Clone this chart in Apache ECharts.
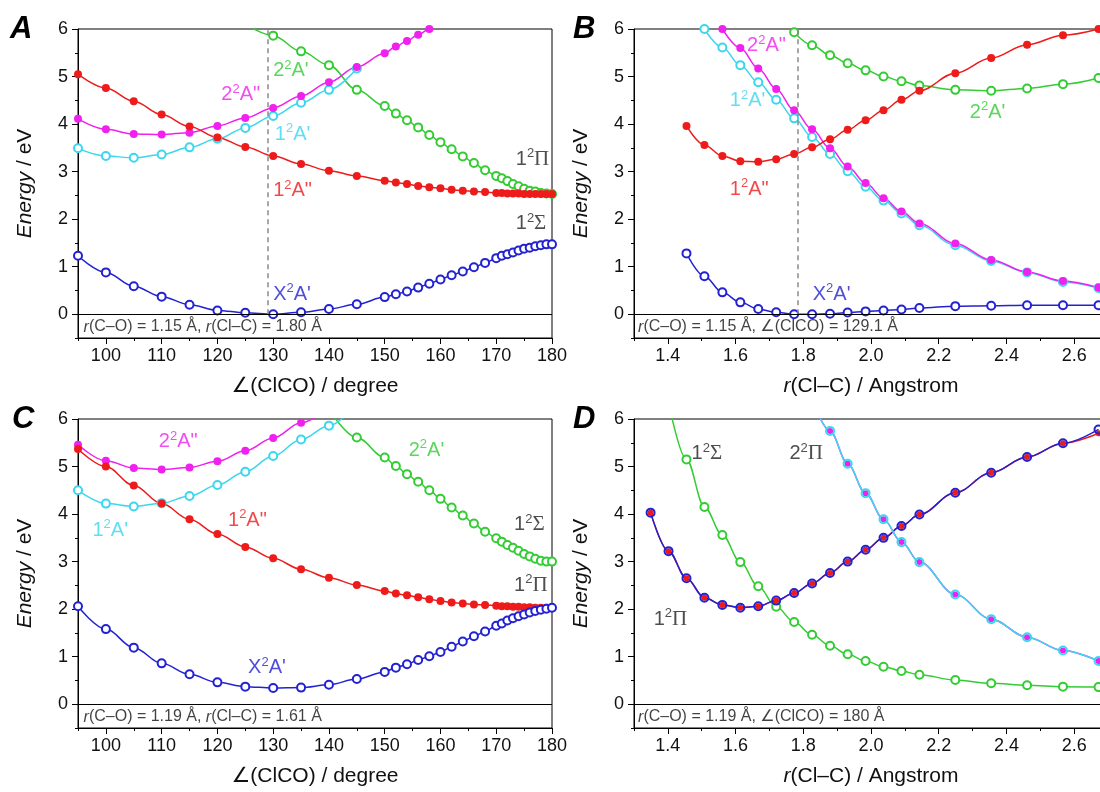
<!DOCTYPE html>
<html>
<head>
<meta charset="utf-8">
<script src="https://cdn.jsdelivr.net/npm/echarts@6/dist/echarts.min.js"></script>
<style>
  html, body { margin: 0; padding: 0; background: #fff; overflow: hidden; }
  #chart { width: 1100px; height: 792px; }
</style>
</head>
<body>
<div id="chart"></div>
<script>
// ---- scan coordinates ----
// bending angle ∠(ClCO) in degrees (panels A and C)
const angleGrid = [95, 100, 105, 110, 115, 120, 125, 130, 135, 140, 145, 150,
  152, 154, 156, 158, 160, 162, 164, 166, 168, 170,
  171, 172, 173, 174, 175, 176, 177, 178, 179, 180];
// Cl–C distance in Angstrom (panels B and D)
const rGrid = [1.349, 1.402, 1.455, 1.508, 1.561, 1.614, 1.667, 1.720, 1.773, 1.826, 1.879,
  1.931, 1.984, 2.037, 2.090, 2.143, 2.249, 2.355, 2.461, 2.567, 2.672];

// ---- A: r(C–O) = 1.15, r(Cl–C) = 1.80 ----
const aX2A1 = [1.23, 0.88, 0.59, 0.37, 0.20, 0.08, 0.03, 0.00, 0.04, 0.11, 0.21, 0.36,
  0.42, 0.48, 0.56, 0.64, 0.73, 0.82, 0.90, 0.99, 1.08, 1.18,
  1.23, 1.26, 1.30, 1.34, 1.38, 1.40, 1.43, 1.45, 1.47, 1.47];
const a1A2 = [5.05, 4.76, 4.48, 4.20, 3.95, 3.72, 3.52, 3.33, 3.16, 3.02, 2.91, 2.81,
  2.77, 2.74, 2.70, 2.67, 2.65, 2.62, 2.60, 2.58, 2.57, 2.55,
  2.55, 2.54, 2.54, 2.54, 2.53, 2.53, 2.53, 2.53, 2.53, 2.53];
const a2A2 = [4.11, 3.89, 3.79, 3.78, 3.82, 3.96, 4.13, 4.34, 4.59, 4.88, 5.20, 5.49,
  5.63, 5.75, 5.88, 6.00, 6.13, null, null, null, null, null,
  null, null, null, null, null, null, null, null, null, null];
const a1A1 = [3.49, 3.33, 3.29, 3.36, 3.51, 3.69, 3.92, 4.17, 4.45, 4.72, 5.17, null,
  null, null, null, null, null, null, null, null, null, null,
  null, null, null, null, null, null, null, null, null, null];
const a2A1 = [null, null, null, null, null, null, 6.10, 5.86, 5.53, 5.24, 4.72, 4.38,
  4.22, 4.08, 3.93, 3.77, 3.62, 3.47, 3.32, 3.18, 3.03, 2.91,
  2.86, 2.80, 2.74, 2.69, 2.64, 2.60, 2.58, 2.55, 2.54, 2.53];

// ---- B: r(C–O) = 1.15, ∠(ClCO) = 129.1 ----
const bX2A1 = [null, null, 1.28, 0.80, 0.46, 0.25, 0.11, 0.04, 0.00, 0.00, 0.01,
  0.035, 0.06, 0.08, 0.10, 0.13, 0.17, 0.18, 0.19, 0.19, 0.19];
const b1A2 = [null, null, 3.96, 3.56, 3.33, 3.22, 3.21, 3.26, 3.37, 3.51, 3.68,
  3.88, 4.08, 4.29, 4.51, 4.70, 5.07, 5.39, 5.67, 5.87, 6.00];
const b2A2 = [null, null, null, null, 6.00, 5.60, 5.17, 4.74, 4.29, 3.89, 3.49,
  3.11, 2.76, 2.44, 2.16, 1.91, 1.49, 1.14, 0.89, 0.70, 0.56];
const b1A1 = [null, null, null, 6.00, 5.61, 5.24, 4.88, 4.51, 4.12, 3.73, 3.37,
  3.01, 2.68, 2.39, 2.12, 1.87, 1.45, 1.12, 0.88, 0.68, 0.55];
const b2A1 = [null, null, null, null, null, null, null, null, 5.93, 5.66, 5.45,
  5.28, 5.13, 5.00, 4.90, 4.81, 4.72, 4.70, 4.75, 4.84, 4.97];

// ---- C: r(C–O) = 1.19, r(Cl–C) = 1.61 ----
const cX2A1 = [2.06, 1.58, 1.19, 0.86, 0.63, 0.46, 0.37, 0.34, 0.35, 0.41, 0.53, 0.68,
  0.77, 0.84, 0.93, 1.01, 1.10, 1.21, 1.32, 1.43, 1.53, 1.65,
  1.70, 1.76, 1.81, 1.85, 1.89, 1.93, 1.96, 1.99, 2.01, 2.03];
const c1A2 = [5.37, 5.00, 4.60, 4.22, 3.89, 3.58, 3.31, 3.07, 2.84, 2.66, 2.51, 2.38,
  2.33, 2.29, 2.25, 2.21, 2.17, 2.14, 2.12, 2.10, 2.09, 2.07,
  2.06, 2.06, 2.05, 2.05, 2.04, 2.04, 2.03, 2.03, 2.03, 2.03];
const c2A2 = [5.46, 5.12, 4.97, 4.94, 4.98, 5.11, 5.33, 5.60, 5.92, 6.25, null, null,
  null, null, null, null, null, null, null, null, null, null,
  null, null, null, null, null, null, null, null, null, null];
const c1A1 = [4.50, 4.22, 4.16, 4.23, 4.38, 4.61, 4.89, 5.22, 5.57, 5.86, 6.33, null,
  null, null, null, null, null, null, null, null, null, null,
  null, null, null, null, null, null, null, null, null, null];
const c2A1 = [null, null, null, null, null, null, null, null, null, 6.20, 5.61, 5.19,
  5.01, 4.84, 4.68, 4.50, 4.32, 4.14, 3.97, 3.80, 3.63, 3.49,
  3.42, 3.35, 3.29, 3.23, 3.16, 3.11, 3.06, 3.02, 3.00, 3.00];

// ---- D: r(C–O) = 1.19, ∠(ClCO) = 180 (linear) ----
const dX2A1 = [4.03, 3.22, 2.65, 2.24, 2.09, 2.03, 2.06, 2.18, 2.34, 2.54, 2.76,
  3.00, 3.25, 3.50, 3.75, 3.99, 4.45, 4.87, 5.20, 5.49, 5.78];
const d1A2 = [4.03, 3.22, 2.65, 2.24, 2.09, 2.03, 2.06, 2.18, 2.34, 2.54, 2.76,
  3.00, 3.25, 3.50, 3.75, 3.99, 4.45, 4.87, 5.20, 5.49, 5.70];
const d1Sigma = [null, 6.35, 5.15, 4.15, 3.56, 2.99, 2.48, 2.05, 1.73, 1.46, 1.23,
  1.05, 0.91, 0.79, 0.70, 0.62, 0.51, 0.44, 0.40, 0.37, 0.36];
const d2Pi = [null, null, null, null, null, null, null, null, null, 6.40, 5.75,
  5.06, 4.44, 3.89, 3.41, 2.99, 2.31, 1.79, 1.41, 1.13, 0.91];

// ---- tick values ----
const angleTicks = [100, 110, 120, 130, 140, 150, 160, 170, 180];
const angleMinor = [95, 105, 115, 125, 135, 145, 155, 165, 175];
const rTicks = [1.4, 1.6, 1.8, 2.0, 2.2, 2.4, 2.6];
const rMinor = [1.3, 1.5, 1.7, 1.9, 2.1, 2.3, 2.5, 2.7];
const energyTicks = [0, 1, 2, 3, 4, 5, 6];
const energyMinor = [-0.5, 0.5, 1.5, 2.5, 3.5, 4.5, 5.5];

// ---- styling ----
const FONT = '"Liberation Sans", Arial, "DejaVu Sans", sans-serif';
const SERIF = '"Liberation Serif", "Times New Roman", serif';
const COL = {
  blue: '#2222d2', red: '#ee1b1b', magenta: '#f020ef',
  cyan: '#3cd6ee', green: '#33cc33', ink: '#222222'
};

const RICH = {
  n: { fontSize: 20, fontFamily: FONT, lineHeight: 24 },
  s: { fontSize: 13, fontFamily: FONT, lineHeight: 14, verticalAlign: 'top' },
  g: { fontSize: 21, fontFamily: SERIF, lineHeight: 24 },
  i: { fontSize: 16, fontFamily: FONT, fontStyle: 'italic', lineHeight: 18 },
  t: { fontSize: 16, fontFamily: FONT, lineHeight: 18 }
};

// "2²A'" style state names
const st = (a, b, c) => `{n|${a}}{s|${b}}{n|${c}}`;
const stG = (a, b, c) => `{n|${a}}{s|${b}}{g|${c}}`;

function pairs(xs, ys) {
  const out = [];
  xs.forEach((x, i) => { if (ys[i] != null) out.push([x, ys[i]]); });
  return out;
}

const grids = [
  { left: 78, top: 29, width: 474, height: 309 },
  { left: 634, top: 29, width: 474, height: 309 },
  { left: 78, top: 419, width: 474, height: 309 },
  { left: 634, top: 419, width: 474, height: 309 }
].map(g => Object.assign(g, {
  show: true, borderColor: '#000', borderWidth: 1,
  backgroundColor: 'transparent', containLabel: false, outerBoundsMode: 'none'
}));

const titleStyle = {
  fontSize: 21, fontFamily: FONT, color: '#111',
  rich: { i: { fontSize: 21, fontFamily: FONT, fontStyle: 'italic', color: '#111' } }
};

function xAxesFor(gi, min, max, majors, minors, fmt, name) {
  return [{
    type: 'value', gridIndex: gi, min, max, position: 'bottom',
    axisLine: { show: true, onZero: false, lineStyle: { color: '#000', width: 1 } },
    axisTick: { show: true, length: 6, customValues: majors, lineStyle: { color: '#000' } },
    axisLabel: { show: true, customValues: majors, formatter: fmt, margin: 9,
      fontSize: 18, color: '#111', fontFamily: FONT },
    splitLine: { show: false },
    name, nameLocation: 'middle', nameGap: 38, nameTextStyle: titleStyle
  }, {
    type: 'value', gridIndex: gi, min, max, position: 'bottom',
    axisLine: { show: false, onZero: false },
    axisTick: { show: true, length: 3, customValues: minors, lineStyle: { color: '#000' } },
    axisLabel: { show: false }, splitLine: { show: false }
  }];
}

function yAxesFor(gi) {
  return [{
    type: 'value', gridIndex: gi, min: -0.5, max: 6, position: 'left',
    axisLine: { show: true, onZero: false, lineStyle: { color: '#000', width: 1 } },
    axisTick: { show: true, length: 6, customValues: energyTicks, lineStyle: { color: '#000' } },
    axisLabel: { show: true, customValues: energyTicks, formatter: v => String(Math.round(v)),
      margin: 10, fontSize: 18, color: '#111', fontFamily: FONT },
    splitLine: { show: false },
    name: '{i|Energy} / eV', nameLocation: 'middle', nameGap: 42, nameTextStyle: titleStyle
  }, {
    type: 'value', gridIndex: gi, min: -0.5, max: 6, position: 'left',
    axisLine: { show: false, onZero: false },
    axisTick: { show: true, length: 3, customValues: energyMinor, lineStyle: { color: '#000' } },
    axisLabel: { show: false }, splitLine: { show: false }
  }];
}

const xAxis = [
  ...xAxesFor(0, 95, 180, angleTicks, angleMinor, v => String(Math.round(v)), '∠(ClCO) / degree'),
  ...xAxesFor(1, 1.3, 2.7, rTicks, rMinor, v => v.toFixed(1), '{i|r}(Cl–C) / Angstrom'),
  ...xAxesFor(2, 95, 180, angleTicks, angleMinor, v => String(Math.round(v)), '∠(ClCO) / degree'),
  ...xAxesFor(3, 1.3, 2.7, rTicks, rMinor, v => v.toFixed(1), '{i|r}(Cl–C) / Angstrom')
];
const yAxis = [...yAxesFor(0), ...yAxesFor(1), ...yAxesFor(2), ...yAxesFor(3)];

// one potential-energy curve
function curve(gi, xs, ys, color, kind, extra) {
  const filled = kind === 'filled' || kind === 'core';
  const ring = kind === 'ring';
  return Object.assign({
    type: 'line', xAxisIndex: 2 * gi, yAxisIndex: 2 * gi,
    data: pairs(xs, ys), smooth: 0.35, smoothMonotone: 'x', clip: true,
    symbol: filled || ring ? 'circle' : 'emptyCircle',
    symbolSize: kind === 'core' ? 6 : 8,
    showSymbol: true, showAllSymbol: true,
    lineStyle: { color, width: 1.5 },
    itemStyle: filled ? { color, borderWidth: 0 }
      : ring ? { color: 'rgba(0,0,0,0)', borderColor: color, borderWidth: 2 }
      : { color, borderColor: color, borderWidth: 1.3 },
    emphasis: { disabled: true }, silent: true, animation: false
  }, extra || {});
}

// vertical dashed marker at the equilibrium geometry
function dashed(x) {
  return {
    silent: true, symbol: ['none', 'none'], label: { show: false }, animation: false,
    lineStyle: { color: '#8a8a8a', type: [5, 4], width: 1.5 },
    data: [[{ coord: [x, 0] }, { coord: [x, 6] }]]
  };
}

// state names and geometry captions for each panel
function labels(gi, items, caption) {
  return {
    type: 'scatter', xAxisIndex: 2 * gi, yAxisIndex: 2 * gi,
    symbolSize: 0, silent: true, z: 10, animation: false,
    data: items.concat([caption]).map(l => ({
      value: [l.x, l.y],
      label: { show: true, position: 'right', distance: 0, formatter: l.text,
        color: l.color, fontFamily: FONT, fontSize: 20, rich: RICH }
    })),
    markLine: {
      silent: true, symbol: ['none', 'none'], label: { show: false }, animation: false,
      lineStyle: { color: '#000', type: 'solid', width: 1 },
      data: [{ yAxis: 0 }]
    }
  };
}

const series = [
  // A
  curve(0, angleGrid, a2A1, COL.green, 'open'),
  curve(0, angleGrid, a1A1, COL.cyan, 'open'),
  curve(0, angleGrid, a2A2, COL.magenta, 'filled'),
  curve(0, angleGrid, a1A2, COL.red, 'filled'),
  curve(0, angleGrid, aX2A1, COL.blue, 'open', { markLine: dashed(129.1) }),
  labels(0, [
    { x: 130, y: 5.12, text: st('2', '2', "A'"), color: COL.green },
    { x: 120.7, y: 4.62, text: st('2', '2', 'A"'), color: COL.magenta },
    { x: 130.3, y: 3.79, text: st('1', '2', "A'"), color: COL.cyan },
    { x: 130, y: 2.6, text: st('1', '2', 'A"'), color: COL.red },
    { x: 173.5, y: 3.26, text: stG('1', '2', 'Π'), color: COL.ink },
    { x: 173.5, y: 1.9, text: stG('1', '2', 'Σ'), color: COL.ink },
    { x: 130, y: 0.42, text: st('X', '2', "A'"), color: COL.blue }
  ], { x: 96, y: -0.27, text: '{i|r}{t|(C–O) = 1.15 Å, }{i|r}{t|(Cl–C) = 1.80 Å}', color: '#111' }),

  // B
  curve(1, rGrid, b2A1, COL.green, 'open'),
  curve(1, rGrid, b1A1, COL.cyan, 'open'),
  curve(1, rGrid, b2A2, COL.magenta, 'filled'),
  curve(1, rGrid, b1A2, COL.red, 'filled'),
  curve(1, rGrid, bX2A1, COL.blue, 'open', { markLine: dashed(1.785) }),
  labels(1, [
    { x: 1.634, y: 5.65, text: st('2', '2', 'A"'), color: COL.magenta },
    { x: 1.583, y: 4.49, text: st('1', '2', "A'"), color: COL.cyan },
    { x: 1.583, y: 2.63, text: st('1', '2', 'A"'), color: COL.red },
    { x: 2.292, y: 4.25, text: st('2', '2', "A'"), color: COL.green },
    { x: 1.828, y: 0.42, text: st('X', '2', "A'"), color: COL.blue }
  ], { x: 1.312, y: -0.27, text: '{i|r}{t|(C–O) = 1.15 Å, ∠(ClCO) = 129.1 Å}', color: '#111' }),

  // C
  curve(2, angleGrid, c2A1, COL.green, 'open'),
  curve(2, angleGrid, c1A1, COL.cyan, 'open'),
  curve(2, angleGrid, c2A2, COL.magenta, 'filled'),
  curve(2, angleGrid, c1A2, COL.red, 'filled'),
  curve(2, angleGrid, cX2A1, COL.blue, 'open'),
  labels(2, [
    { x: 109.5, y: 5.52, text: st('2', '2', 'A"'), color: COL.magenta },
    { x: 154.3, y: 5.34, text: st('2', '2', "A'"), color: COL.green },
    { x: 97.6, y: 3.66, text: st('1', '2', "A'"), color: COL.cyan },
    { x: 121.9, y: 3.87, text: st('1', '2', 'A"'), color: COL.red },
    { x: 173.2, y: 3.78, text: stG('1', '2', 'Σ'), color: COL.ink },
    { x: 173.2, y: 2.5, text: stG('1', '2', 'Π'), color: COL.ink },
    { x: 125.5, y: 0.77, text: st('X', '2', "A'"), color: COL.blue }
  ], { x: 96, y: -0.27, text: '{i|r}{t|(C–O) = 1.19 Å, }{i|r}{t|(Cl–C) = 1.61 Å}', color: '#111' }),

  // D (degenerate pairs drawn as a filled dot under an open ring)
  curve(3, rGrid, d1Sigma, COL.green, 'open'),
  curve(3, rGrid, d1A2, COL.red, 'core'),
  curve(3, rGrid, dX2A1, COL.blue, 'ring'),
  curve(3, rGrid, d2Pi, COL.magenta, 'core'),
  curve(3, rGrid, d2Pi, COL.cyan, 'ring'),
  labels(3, [
    { x: 1.470, y: 5.27, text: stG('1', '2', 'Σ'), color: COL.ink },
    { x: 1.759, y: 5.27, text: stG('2', '2', 'Π'), color: COL.ink },
    { x: 1.358, y: 1.79, text: stG('1', '2', 'Π'), color: COL.ink }
  ], { x: 1.312, y: -0.27, text: '{i|r}{t|(C–O) = 1.19 Å, ∠(ClCO) = 180 Å}', color: '#111' })
];

// panel letters
const panelLetter = (txt, x, y) => ({
  type: 'text', left: x, top: y, silent: true,
  style: { text: txt, fill: '#000', font: `italic bold 31px ${FONT}` }
});

const chart = echarts.init(document.getElementById('chart'), null, { renderer: 'canvas' });
chart.setOption({
  animation: false,
  backgroundColor: '#fff',
  grid: grids,
  xAxis, yAxis, series,
  graphic: [
    panelLetter('A', 10, 14),
    panelLetter('B', 573, 14),
    panelLetter('C', 12, 404),
    panelLetter('D', 573, 404)
  ]
});
</script>
</body>
</html>
